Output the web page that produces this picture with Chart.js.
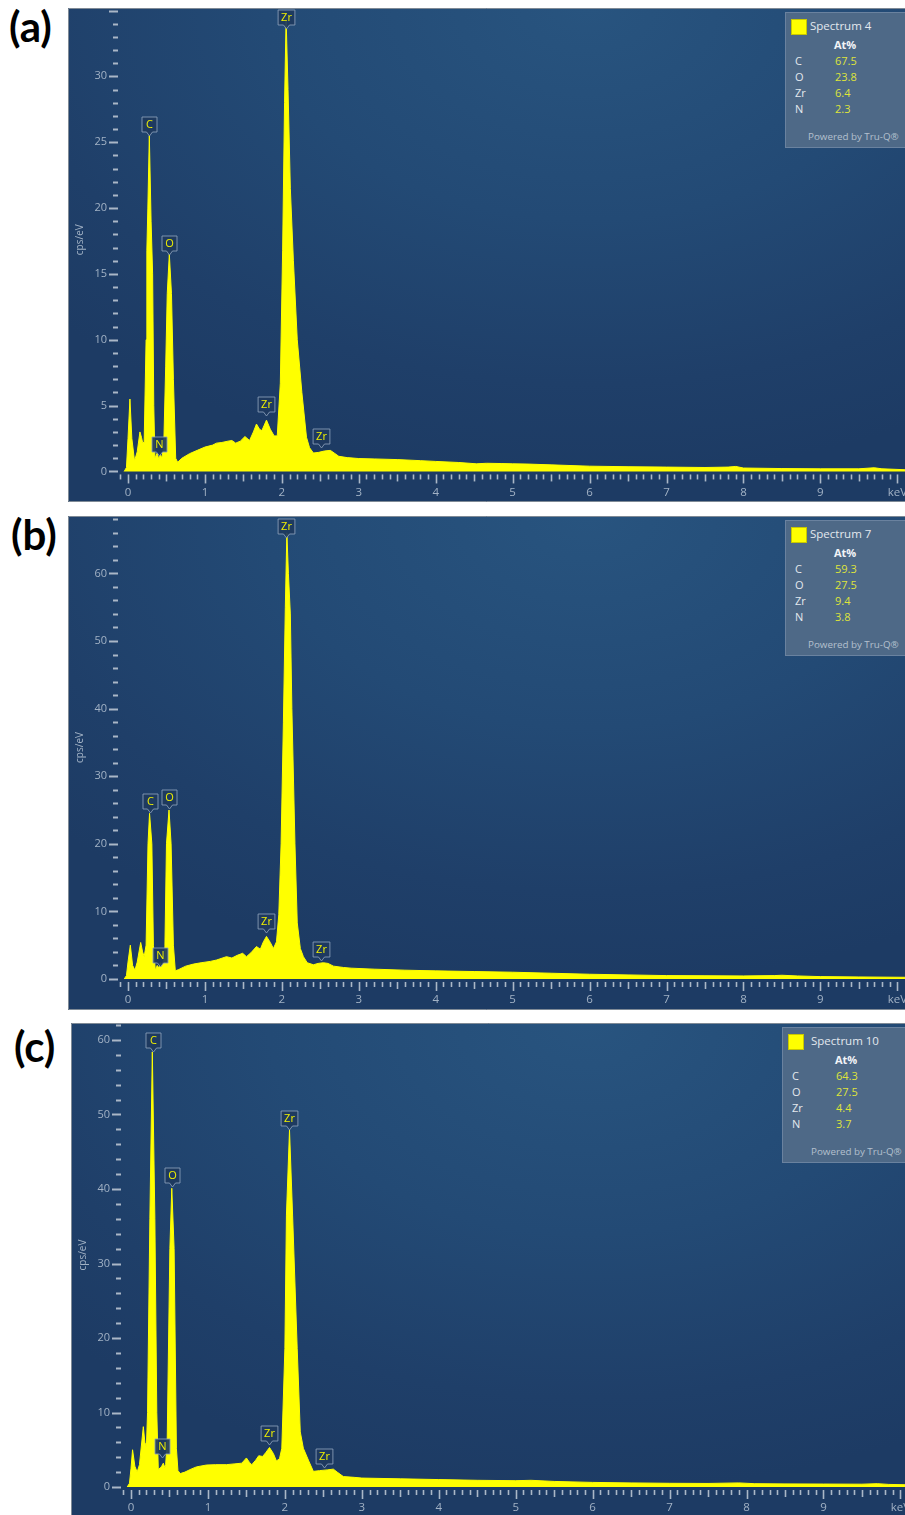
<!DOCTYPE html>
<html lang="en">
<head>
<meta charset="UTF-8">
<title>EDS spectra</title>
<script src="https://cdn.jsdelivr.net/npm/chart.js"></script>
<style>
  body { margin: 0; background: #fff; width: 905px; height: 1515px; position: relative; overflow: hidden; font-family: "Open Sans", sans-serif; }
  .tag { position: absolute; font: bold 42px Lato, sans-serif; color: #000; line-height: 48px; }
  .panel { position: absolute; overflow: hidden; }
  .panel canvas { position: absolute; left: 0; top: 0;
    background: radial-gradient(ellipse 85% 95% at 62% 0%, #28547f 0%, #234a75 45%, #1f3f69 80%, #1d3b64 100%); }
  .quant { position: absolute; top: 4px; width: 140px; height: 134px; background: #4e6987; border: 1px solid #6a829f; color: #e3e8ee; font-size: 11px; }
  .quant span { position: absolute; line-height: 14px; white-space: nowrap; }
  .quant .sw { width: 14px; height: 14px; background: #ffff00; border: 1px solid #c8c800; }
  .quant .hd { font-weight: bold; color: #f2f4f7; }
  .quant .val { color: #dfe43a; }
  .quant .pw { color: #b4c0ce; font-size: 9.8px; }
</style>
</head>
<body>
<div class="tag" style="left:9px; top:2px">(a)</div>
<div class="tag" style="left:11px; top:510px">(b)</div>
<div class="tag" style="left:14px; top:1022px">(c)</div>

<div class="panel" id="pa" style="left:68px; top:8px; width:837px; height:494px"><canvas id="ca" width="837" height="494"></canvas></div>
<div class="panel" id="pb" style="left:68px; top:516px; width:837px; height:494px"><canvas id="cb" width="837" height="494"></canvas></div>
<div class="panel" id="pc" style="left:71px; top:1023px; width:834px; height:493px"><canvas id="cc" width="834" height="493"></canvas></div>

<script>
// ---- spectrum (a) : Spectrum 4 ----
const keV_a = [-0.05, -0.02, 0.00, 0.025, 0.05, 0.085, 0.12, 0.155, 0.175, 0.19, 0.21, 0.235, 0.245, 0.258, 0.277, 0.30, 0.32, 0.335, 0.35,
  0.38, 0.40, 0.42, 0.44, 0.465, 0.49, 0.51, 0.537, 0.565, 0.59, 0.62, 0.645,
  0.70, 0.80, 0.90, 1.00, 1.10, 1.15, 1.22, 1.30, 1.35, 1.40, 1.46, 1.52, 1.58, 1.63, 1.67, 1.71, 1.74, 1.80, 1.85, 1.90,
  1.94, 1.98, 2.01, 2.035, 2.055, 2.08, 2.11, 2.15, 2.20, 2.26, 2.32, 2.36, 2.41, 2.48, 2.55, 2.63, 2.68, 2.74, 2.85,
  3.0, 3.2, 3.5, 3.8, 4.0, 4.3, 4.53, 4.66, 4.85, 5.0, 5.2, 5.5, 6.0, 6.5, 7.0, 7.5, 7.8, 7.9, 8.0, 8.5, 9.0, 9.5, 9.7, 9.8, 10.1];
const cps_a = [0, 0.3, 2.5, 5.5, 2.5, 0.8, 1.5, 3.0, 2.6, 2.2, 2.2, 10.0, 16.8, 20.0, 25.5, 19.0, 15.0, 5.0, 1.0,
  1.4, 0.9, 1.3, 1.0, 2.0, 8.0, 13.5, 16.5, 13.5, 7.0, 1.0, 0.7,
  1.0, 1.35, 1.6, 1.85, 2.0, 2.15, 2.2, 2.3, 2.35, 2.15, 2.3, 2.65, 2.35, 3.0, 3.6, 3.2, 3.1, 3.9, 3.2, 2.7,
  2.7, 6.7, 16.8, 28.0, 34.4, 29.0, 21.5, 16.0, 10.0, 6.0, 2.6, 1.8, 1.4, 1.45, 1.55, 1.6, 1.4, 1.15, 1.05,
  0.98, 0.95, 0.9, 0.82, 0.76, 0.68, 0.58, 0.62, 0.6, 0.58, 0.56, 0.5, 0.4, 0.36, 0.33, 0.3, 0.33, 0.38, 0.26, 0.22, 0.2, 0.2, 0.28, 0.2, 0.13];

// ---- spectrum (b) : Spectrum 7 ----
const keV_b = [-0.05, -0.02, 0.00, 0.03, 0.06, 0.09, 0.12, 0.165, 0.19, 0.21, 0.235, 0.26, 0.28, 0.31, 0.33, 0.355,
  0.38, 0.40, 0.42, 0.44, 0.47, 0.48, 0.50, 0.533, 0.56, 0.59, 0.615,
  0.66, 0.75, 0.85, 0.95, 1.07, 1.15, 1.28, 1.35, 1.42, 1.49, 1.54, 1.60, 1.67, 1.72, 1.76, 1.80, 1.85, 1.89,
  1.93, 1.96, 1.99, 2.02, 2.045, 2.065, 2.085, 2.11, 2.13, 2.17, 2.20, 2.24, 2.28, 2.33, 2.41, 2.47, 2.54, 2.60, 2.67, 2.8, 2.9,
  3.2, 3.6, 4.0, 4.5, 5.0, 5.5, 6.0, 6.5, 7.0, 7.5, 8.0, 8.4, 8.5, 8.7, 9.0, 9.5, 10.1];
const cps_b = [0, 0.5, 2.5, 5.0, 2.0, 1.3, 2.5, 5.4, 4.0, 3.3, 5.0, 20.0, 24.5, 20.0, 5.0, 1.3,
  2.0, 1.6, 2.4, 2.0, 3.0, 5.0, 20.0, 25.0, 20.0, 5.0, 1.2,
  1.4, 1.9, 2.2, 2.4, 2.6, 2.8, 3.3, 3.1, 3.5, 3.8, 3.3, 3.9, 4.8, 4.4, 5.5, 6.3, 5.4, 4.5,
  5.5, 9.5, 20.0, 38.0, 55.0, 66.0, 60.0, 54.0, 40.0, 20.0, 8.3, 4.5, 3.3, 2.4, 2.1, 2.3, 2.4, 2.3, 1.9, 1.7, 1.6,
  1.45, 1.3, 1.2, 1.1, 1.0, 0.85, 0.7, 0.6, 0.5, 0.48, 0.45, 0.5, 0.55, 0.45, 0.35, 0.3, 0.25];

// ---- spectrum (c) : Spectrum 10 ----
const keV_c = [-0.05, -0.02, 0.00, 0.02, 0.05, 0.08, 0.11, 0.16, 0.18, 0.20, 0.215, 0.245, 0.277, 0.31, 0.335, 0.355,
  0.38, 0.40, 0.42, 0.44, 0.45, 0.47, 0.505, 0.53, 0.56, 0.59, 0.61, 0.64,
  0.70, 0.78, 0.85, 0.98, 1.10, 1.24, 1.34, 1.44, 1.50, 1.54, 1.57, 1.62, 1.66, 1.71, 1.75, 1.80, 1.85, 1.89,
  1.93, 1.96, 2.00, 2.02, 2.06, 2.10, 2.16, 2.20, 2.24, 2.31, 2.37, 2.45, 2.55, 2.63, 2.68, 2.76, 2.9,
  3.0, 3.5, 4.0, 4.5, 5.0, 5.2, 5.5, 6.0, 6.5, 7.0, 7.5, 7.9, 8.1, 8.5, 9.0, 9.5, 9.7, 9.85, 10.1];
const cps_c = [0, 0.5, 2.5, 5.0, 2.8, 2.0, 3.0, 8.1, 6.0, 5.4, 10.0, 36.0, 58.4, 36.0, 10.0, 2.3,
  2.6, 2.8, 3.2, 2.6, 3.0, 6.0, 32.0, 40.1, 32.0, 5.2, 2.2, 1.8,
  2.0, 2.4, 2.7, 2.95, 3.0, 3.0, 3.1, 3.2, 3.9, 3.3, 3.0, 3.6, 4.2, 4.1, 4.6, 5.3, 4.5, 3.5,
  3.8, 5.2, 18.6, 36.5, 47.9, 36.5, 18.6, 7.4, 5.2, 3.5, 2.1, 2.2, 2.3, 2.4, 2.0, 1.4, 1.3,
  1.2, 1.1, 1.0, 0.9, 0.85, 0.9, 0.75, 0.62, 0.55, 0.5, 0.48, 0.55, 0.45, 0.42, 0.4, 0.38, 0.45, 0.35, 0.3];

// peak markers: element, position (keV) and where the marker points (cps/eV)
const peakEl = ['C', 'N', 'O', 'Zr', 'Zr', 'Zr'];
const peakKeV_a = [0.277, 0.40, 0.537, 1.79, 2.05, 2.51];
const peakTip_a = [25.5, 1.2, 16.4, 4.2, 33.6, 1.75];
const peakKeV_b = [0.285, 0.41, 0.533, 1.80, 2.05, 2.51];
const peakTip_b = [24.5, 1.8, 25.1, 6.8, 65.2, 2.6];
const peakKeV_c = [0.28, 0.40, 0.53, 1.80, 2.05, 2.51];
const peakTip_c = [58.4, 3.85, 40.3, 5.6, 47.9, 2.5];

// quantification boxes
const quantEl = ['C', 'O', 'Zr', 'N'];
const atPct_a = ['67.5', '23.8', '6.4', '2.3'];
const atPct_b = ['59.3', '27.5', '9.4', '3.8'];
const atPct_c = ['64.3', '27.5', '4.4', '3.7'];

// axis ticks
const xTickLabels = ['0', '1', '2', '3', '4', '5', '6', '7', '8', '9', 'keV'];
const yLabels_a = [0, 5, 10, 15, 20, 25, 30];
const yLabels_b = [0, 10, 20, 30, 40, 50, 60];
const yLabels_c = [0, 10, 20, 30, 40, 50, 60];

const TICK = '#aab7c7';
const TICK_TEXT = '#a2b2c5';

const edsAxes = {
  id: 'edsAxes',
  beforeDatasetsDraw(chart, args, o) {
    const { ctx, chartArea: ca, scales: { x, y } } = chart;
    const x0 = x.getPixelForValue(0);
    const y0 = y.getPixelForValue(0);
    ctx.save();
    ctx.strokeStyle = TICK;
    ctx.lineWidth = 2;
    // vertical axis: minor dashes, longer dashes on labelled values
    const yr = Math.round(x0 - 10);
    for (let v = 0; v <= o.yTop + 1e-6; v += o.yMinor) {
      const py = Math.round(y.getPixelForValue(v)) + 0.5;
      const major = Math.abs(v / o.yMajor - Math.round(v / o.yMajor)) < 1e-6;
      ctx.beginPath();
      ctx.moveTo(yr - (major ? 9 : 5), py);
      ctx.lineTo(yr, py);
      ctx.stroke();
    }
    ctx.fillStyle = TICK_TEXT;
    ctx.font = '11px "Open Sans"';
    ctx.textAlign = 'right';
    ctx.textBaseline = 'middle';
    o.yLabels.forEach(v => ctx.fillText(String(v), yr - 11, y.getPixelForValue(v)));

    // horizontal axis: 0.1 keV ticks, 0.5 medium, whole keV long
    ctx.lineWidth = 1.6;
    for (let i = -1; i <= 100; i++) {
      const px = Math.round(x.getPixelForValue(i / 10)) + 0.5;
      const len = i % 10 === 0 ? 9 : (i % 5 === 0 ? 7 : 5);
      ctx.beginPath();
      ctx.moveTo(px, y0 + 3);
      ctx.lineTo(px, y0 + 3 + len);
      ctx.stroke();
    }
    ctx.textAlign = 'center';
    ctx.font = '11.5px "Open Sans"';
    xTickLabels.forEach((t, i) => ctx.fillText(t, x.getPixelForValue(i), y0 + 21));

    // axis title
    ctx.save();
    ctx.font = '10px "Open Sans"';
    ctx.translate(ca.left + 12, (y0 + ca.top) / 2);
    ctx.rotate(-Math.PI / 2);
    ctx.fillText('cps/eV', 0, 0);
    ctx.restore();
    ctx.restore();
  },
  afterDatasetsDraw(chart, args, o) {
    const { ctx, scales: { x, y } } = chart;
    ctx.save();
    ctx.font = '11px "Open Sans"';
    ctx.textAlign = 'center';
    ctx.textBaseline = 'middle';
    peakEl.forEach((el, i) => {
      const cx = Math.round(x.getPixelForValue(o.peakKeV[i])) + 0.5;
      const tip = Math.round(y.getPixelForValue(o.peakTip[i]));
      const w = Math.max(15, ctx.measureText(el).width + 6);
      const h = 15, p = 4;
      const top = tip - p - h;
      ctx.beginPath();
      ctx.moveTo(cx - w / 2, top);
      ctx.lineTo(cx + w / 2, top);
      ctx.lineTo(cx + w / 2, top + h);
      ctx.lineTo(cx + 3, top + h);
      ctx.lineTo(cx, tip);
      ctx.lineTo(cx - 3, top + h);
      ctx.lineTo(cx - w / 2, top + h);
      ctx.closePath();
      ctx.fillStyle = 'rgba(30,58,94,0.92)';
      ctx.fill();
      ctx.strokeStyle = 'rgba(140,160,186,0.85)';
      ctx.lineWidth = 1;
      ctx.stroke();
      ctx.fillStyle = '#f0f000';
      ctx.fillText(el, cx, top + h / 2 + 0.5);
    });
    // frame
    ctx.strokeStyle = '#7f8a96';
    ctx.lineWidth = 1;
    ctx.beginPath();
    ctx.moveTo(chart.width, 0.5);
    ctx.lineTo(0.5, 0.5);
    ctx.lineTo(0.5, chart.height - 0.5);
    ctx.lineTo(chart.width, chart.height - 0.5);
    ctx.stroke();
    ctx.restore();
  }
};

function spectrumChart(id, keV, cps, xr, yr, axes) {
  return new Chart(document.getElementById(id), {
    type: 'line',
    data: {
      datasets: [{
        data: keV.map((k, i) => ({ x: k, y: cps[i] })),
        borderColor: '#ffff00',
        backgroundColor: '#ffff00',
        borderWidth: 1,
        pointRadius: 0,
        tension: 0,
        fill: 'origin'
      }]
    },
    options: {
      responsive: false,
      animation: false,
      devicePixelRatio: 1,
      layout: { padding: 0 },
      scales: {
        x: { type: 'linear', min: xr[0], max: xr[1], display: false },
        y: { min: yr[0], max: yr[1], display: false }
      },
      plugins: { legend: { display: false }, tooltip: { enabled: false }, edsAxes: axes }
    },
    plugins: [edsAxes]
  });
}

spectrumChart('ca', keV_a, cps_a, [-0.78, 10.10], [-2.32, 35.19],
  { yTop: 35, yMinor: 1, yMajor: 5, yLabels: yLabels_a, peakKeV: peakKeV_a, peakTip: peakTip_a });
spectrumChart('cb', keV_b, cps_b, [-0.78, 10.10], [-4.59, 68.49],
  { yTop: 68, yMinor: 2, yMajor: 10, yLabels: yLabels_b, peakKeV: peakKeV_b, peakTip: peakTip_b });
spectrumChart('cc', keV_c, cps_c, [-0.78, 10.06], [-3.89, 62.28],
  { yTop: 62, yMinor: 2, yMajor: 10, yLabels: yLabels_c, peakKeV: peakKeV_c, peakTip: peakTip_c });

// quantification table in the top-right corner of each panel
function quantBox(panelId, name, values, left, valX, powX) {
  const box = document.createElement('div');
  box.className = 'quant';
  box.style.left = left + 'px';
  let html = `<span class="sw" style="left:5px; top:6px"></span>` +
    `<span style="left:${valX - 25}px; top:6px; font-size:11.5px">${name}</span>` +
    `<span class="hd" style="left:${valX - 1}px; top:25px">At%</span>`;
  quantEl.forEach((el, i) => {
    const t = Math.round(41 + i * 16);
    html += `<span style="left:9px; top:${t}px">${el}</span>` +
      `<span class="val" style="left:${valX}px; top:${t}px">${values[i]}</span>`;
  });
  html += `<span class="pw" style="left:${powX}px; top:117px">Powered by Tru-Q®</span>`;
  box.innerHTML = html;
  document.getElementById(panelId).appendChild(box);
}
quantBox('pa', 'Spectrum 4', atPct_a, 717, 49, 22);
quantBox('pb', 'Spectrum 7', atPct_b, 717, 49, 22);
quantBox('pc', 'Spectrum 10', atPct_c, 711, 53, 28);
</script>
</body>
</html>
